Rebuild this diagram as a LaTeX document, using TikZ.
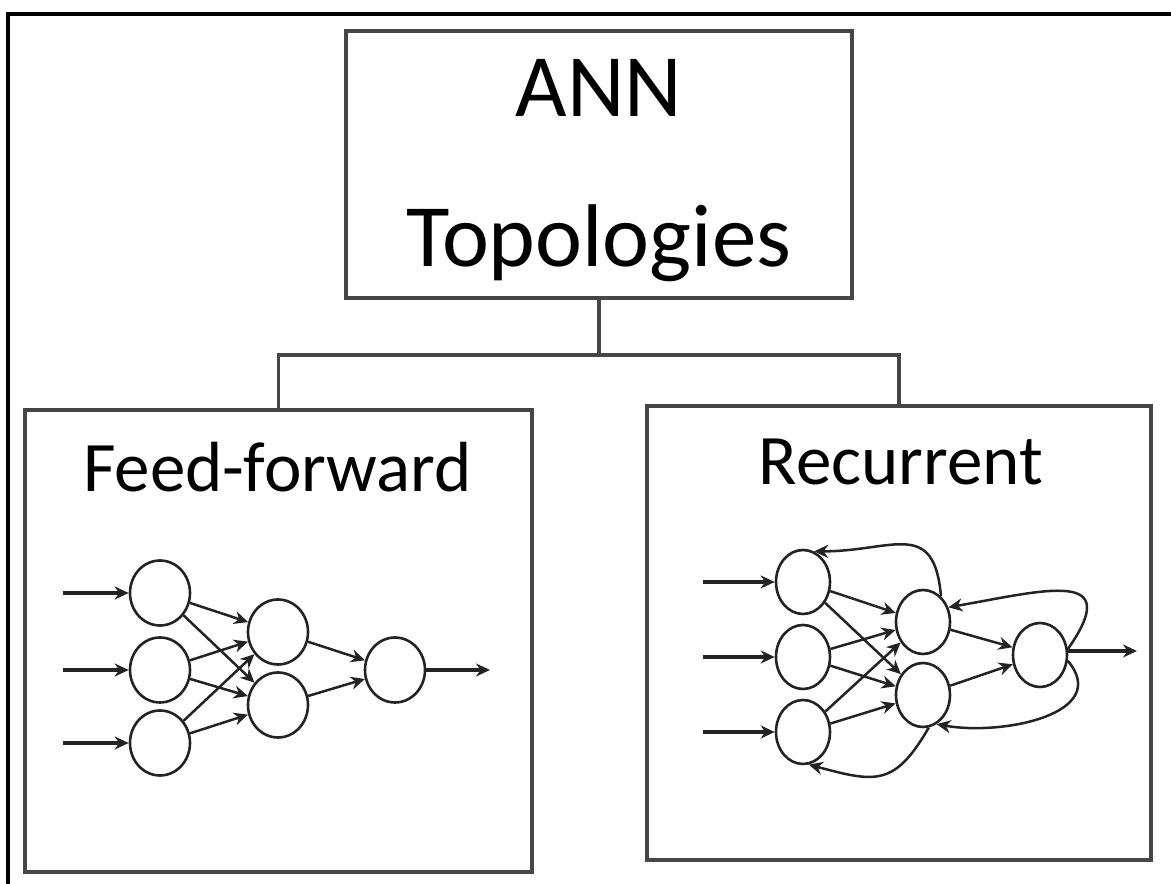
\documentclass[tikz,border=0pt]{standalone}
\usepackage{fontspec}
\setmainfont{Carlito}
\usetikzlibrary{shapes,arrows.meta}
\definecolor{boxline}{RGB}{70,70,70}
\definecolor{netline}{RGB}{35,35,35}
\tikzset{
  box/.style={shape=rectangle,draw=boxline,line width=3.5pt,inner sep=0pt},
  conn/.style={draw=boxline,line width=3.5pt},
  title/.style={anchor=base,font=\fontsize{71}{80}\selectfont},
  ffneuron/.style={shape=ellipse,draw=netline,line width=2.6pt,inner sep=0pt,minimum width=60,minimum height=65},
  recneuron/.style={ffneuron,minimum width=54,minimum height=64},
  arr/.style={-{Stealth[length=14pt,width=13pt]},draw=netline,line width=2.5pt},
  feed/.style={arr,line width=3.4pt}
}
\begin{document}
\begin{tikzpicture}[x=1pt,y=1pt]
\useasboundingbox (0,0) rectangle (1171,884);
\draw[line width=4pt] (8,0) -- (8,870) -- (1171,870);

\node[box,minimum width=506,minimum height=267,align=center,font=\fontsize{89}{150}\selectfont] (top) at (599,719.5) {\rule{0pt}{69pt}ANN\\Topologies};
\node[box,minimum width=507,minimum height=462] (ff) at (278.5,243) {};
\node[box,minimum width=504,minimum height=454] (rec) at (899,251) {};
\coordinate (split) at (599,529);
\draw[conn] (top.south) -- (split) -| (ff.north);
\draw[conn] (split) -| (rec.north);

\node[title] (fftitle) at (277.5,392) {Feed-forward};
\node[title] (rectitle) at (901,399) {Recurrent};

\node[ffneuron] (fi1) at (160,291) {};
\node[ffneuron] (fi2) at (160,214) {};
\node[ffneuron] (fi3) at (160,141) {};
\node[ffneuron] (fh1) at (278,252) {};
\node[ffneuron] (fh2) at (278,179) {};
\node[ffneuron] (fo) at (395,214) {};
\coordinate (fx1) at (63,291);
\coordinate (fx2) at (63,214);
\coordinate (fx3) at (63,141);
\coordinate (fy) at (490,214);

\path (fx1) edge[feed] (fi1);
\path (fx2) edge[feed] (fi2);
\path (fx3) edge[feed] (fi3);
\path (fi1) edge[arr] (fh1) edge[arr] (fh2);
\path (fi2) edge[arr] (fh1) edge[arr] (fh2);
\path (fi3) edge[arr] (fh1) edge[arr] (fh2);
\path (fh1) edge[arr] (fo);
\path (fh2) edge[arr] (fo);
\path (fo) edge[feed] (fy);

\node[recneuron] (ri1) at (803,302) {};
\node[recneuron] (ri2) at (803,227) {};
\node[recneuron] (ri3) at (803,152) {};
\node[recneuron] (rh1) at (923,262) {};
\node[recneuron] (rh2) at (923,189) {};
\node[recneuron] (ro) at (1040,229) {};
\coordinate (rx1) at (703,302);
\coordinate (rx2) at (703,227);
\coordinate (rx3) at (703,152);
\coordinate (ry) at (1137,233);

\path (rx1) edge[feed] (ri1);
\path (rx2) edge[feed] (ri2);
\path (rx3) edge[feed] (ri3);
\path (ri1) edge[arr] (rh1) edge[arr] (rh2);
\path (ri2) edge[arr] (rh1) edge[arr] (rh2);
\path (ri3) edge[arr] (rh1) edge[arr] (rh2);
\path (rh1) edge[arr] (ro);
\path (rh2) edge[arr] (ro);
\path (ro.east |- ry) edge[feed] (ry);
\path (rh1.55) edge[arr,out=95,in=0,looseness=1.5] (ri1.70);
\path (ro.12) edge[arr,out=55,in=10,looseness=2] (rh1.30);
\path (ro.-12) edge[arr,out=-50,in=-10,looseness=1.2] (rh2.-65);
\path (rh2.-80) edge[arr,out=-120,in=-15,looseness=1.4] (ri3.-80);
\end{tikzpicture}
\end{document}
